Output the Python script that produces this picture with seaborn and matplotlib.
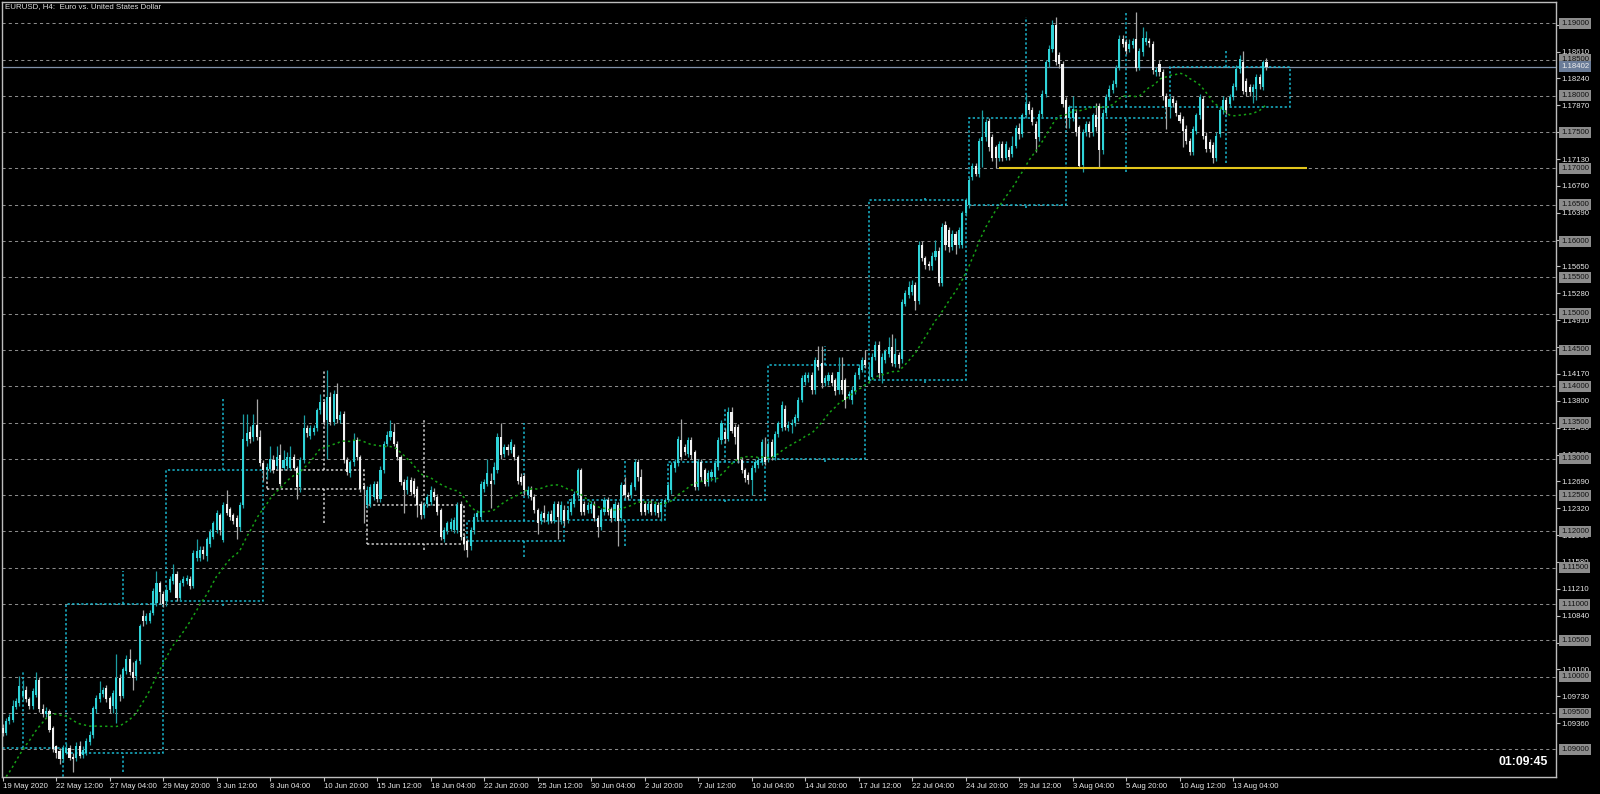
import numpy as np
import pandas as pd
import matplotlib
matplotlib.use("Agg")
import matplotlib.pyplot as plt
import matplotlib.transforms as mtransforms
from matplotlib.patches import Rectangle
import seaborn as sns

# ========== DATA: EURUSD H4, 19 May 20:00 -> 14 Aug 20:00 (prices in 1e-4) ==========
opens = [
    10929, 10923, 10939, 10941, 10958, 10964, 10973, 10982, 10969, 10960,
    10975, 10996, 10955, 10948, 10953, 10929, 10904, 10898, 10886, 10895,
    10902, 10890, 10888, 10904, 10892, 10895, 10910, 10919, 10955, 10969,
    10976, 10984, 10971, 10960, 10955, 10998, 10973, 11008, 11024, 11006,
    11001, 11021, 11083, 11077, 11077, 11088, 11102, 11129, 11114, 11104,
    11120, 11132, 11141, 11109, 11129, 11132, 11134, 11125, 11164, 11164,
    11175, 11166, 11183, 11193, 11202, 11222, 11188, 11238, 11231, 11222,
    11218, 11206, 11236, 11324, 11337, 11330, 11346, 11330, 11294, 11284,
    11286, 11298, 11290, 11305, 11288, 11290, 11288, 11303, 11287, 11261,
    11298, 11342, 11332, 11337, 11342, 11367, 11378, 11353, 11385, 11351,
    11390, 11353, 11362, 11298, 11280, 11295, 11326, 11303, 11262, 11236,
    11238, 11248, 11266, 11245, 11284, 11321, 11330, 11337, 11321, 11303,
    11268, 11257, 11271, 11270, 11259, 11238, 11222, 11238, 11241, 11255,
    11248, 11229, 11190, 11200, 11204, 11202, 11202, 11238, 11193, 11187,
    11180, 11202, 11220, 11220, 11259, 11266, 11270, 11271, 11284, 11330,
    11307, 11316, 11312, 11316, 11303, 11275, 11277, 11250, 11257, 11248,
    11229, 11215, 11226, 11215, 11224, 11215, 11238, 11216, 11229, 11216,
    11227, 11238, 11250, 11284, 11238, 11229, 11231, 11238, 11218, 11206,
    11227, 11243, 11231, 11218, 11236, 11218, 11264, 11250, 11250, 11261,
    11296, 11275, 11238, 11229, 11238, 11227, 11236, 11227, 11238, 11243,
    11257, 11287, 11294, 11326, 11316, 11307, 11326, 11309, 11261, 11296,
    11284, 11268, 11275, 11275, 11289, 11326, 11337, 11328, 11365, 11344,
    11344, 11298, 11284, 11278, 11271, 11287, 11291, 11296, 11303, 11300,
    11323, 11303, 11334, 11342, 11369, 11342, 11346, 11349, 11356, 11381,
    11406, 11411, 11416, 11395, 11436, 11432, 11404, 11407, 11416, 11409,
    11395, 11409, 11408, 11386, 11381, 11393, 11415, 11423, 11436, 11408,
    11413, 11441, 11457, 11418, 11436, 11445, 11454, 11430, 11443, 11437,
    11514, 11526, 11530, 11539, 11518, 11594, 11576, 11569, 11565, 11578,
    11587, 11542, 11622, 11615, 11592, 11610, 11594, 11594, 11638, 11649,
    11688, 11704, 11693, 11738, 11743, 11766, 11743, 11729, 11715, 11734,
    11715, 11726, 11720, 11731, 11756, 11748, 11773, 11789, 11780, 11761,
    11743, 11775, 11803, 11846, 11865, 11897, 11856, 11844, 11794, 11770,
    11770, 11777, 11757, 11705, 11750, 11761, 11750, 11773, 11786, 11725,
    11777, 11798, 11808, 11817, 11839, 11878, 11874, 11864, 11870, 11878,
    11839, 11860, 11874, 11876, 11872, 11833, 11844, 11833, 11800, 11785,
    11796, 11790, 11773, 11768, 11755, 11738, 11722, 11752, 11773, 11796,
    11745, 11736, 11732, 11715, 11748, 11780, 11794, 11789, 11798, 11812,
    11837, 11846, 11821, 11812, 11805, 11810, 11826, 11812, 11846,
]
highs = [
    10935, 10943, 10948, 10968, 10970, 11001, 10996, 10987, 10972, 10985,
    11007, 10999, 10962, 10958, 10956, 10932, 10906, 10902, 10906, 10908,
    10906, 10895, 10910, 10912, 10904, 10916, 10925, 10960, 10975, 10994,
    10986, 10988, 10974, 10982, 11031, 11003, 11013, 11030, 11038, 11020,
    11024, 11073, 11092, 11088, 11092, 11122, 11146, 11132, 11118, 11125,
    11138, 11155, 11145, 11133, 11138, 11140, 11138, 11174, 11189, 11180,
    11180, 11192, 11204, 11214, 11230, 11226, 11240, 11257, 11234, 11225,
    11222, 11240, 11362, 11362, 11345, 11362, 11383, 11340, 11298, 11294,
    11318, 11305, 11318, 11320, 11312, 11310, 11318, 11307, 11290, 11303,
    11360, 11346, 11346, 11347, 11370, 11390, 11382, 11422, 11392, 11395,
    11404, 11366, 11366, 11302, 11299, 11335, 11330, 11306, 11266, 11262,
    11265, 11270, 11270, 11290, 11325, 11338, 11353, 11350, 11324, 11306,
    11272, 11276, 11275, 11274, 11262, 11242, 11240, 11252, 11262, 11260,
    11252, 11232, 11206, 11215, 11218, 11220, 11240, 11242, 11196, 11190,
    11206, 11225, 11230, 11270, 11272, 11300, 11280, 11295, 11335, 11349,
    11320, 11320, 11328, 11320, 11306, 11280, 11280, 11262, 11262, 11252,
    11232, 11228, 11236, 11228, 11230, 11242, 11242, 11242, 11236, 11234,
    11246, 11256, 11288, 11288, 11242, 11240, 11242, 11242, 11222, 11233,
    11248, 11247, 11234, 11242, 11240, 11268, 11275, 11254, 11268, 11300,
    11300, 11286, 11242, 11242, 11245, 11242, 11240, 11245, 11246, 11268,
    11295, 11300, 11332, 11355, 11320, 11330, 11330, 11312, 11300, 11300,
    11288, 11284, 11286, 11298, 11330, 11353, 11342, 11372, 11372, 11348,
    11348, 11302, 11288, 11282, 11291, 11300, 11302, 11327, 11330, 11325,
    11327, 11338, 11352, 11380, 11374, 11352, 11355, 11362, 11385, 11416,
    11420, 11420, 11420, 11440, 11455, 11455, 11415, 11420, 11420, 11412,
    11440, 11441, 11412, 11394, 11400, 11420, 11430, 11440, 11450, 11432,
    11446, 11462, 11462, 11446, 11452, 11468, 11472, 11466, 11447, 11520,
    11532, 11545, 11546, 11544, 11600, 11600, 11580, 11572, 11585, 11602,
    11592, 11625, 11627, 11620, 11615, 11614, 11620, 11642, 11660, 11688,
    11708, 11708, 11742, 11780, 11768, 11770, 11748, 11733, 11738, 11738,
    11738, 11730, 11745, 11760, 11762, 11777, 11803, 11793, 11784, 11765,
    11780, 11808, 11850, 11870, 11904, 11908, 11860, 11848, 11798, 11788,
    11800, 11782, 11760, 11755, 11765, 11765, 11777, 11790, 11790, 11782,
    11802, 11815, 11822, 11843, 11884, 11884, 11878, 11878, 11880, 11915,
    11866, 11895, 11890, 11880, 11876, 11840, 11850, 11837, 11804, 11800,
    11800, 11794, 11778, 11772, 11760, 11742, 11758, 11777, 11803, 11800,
    11750, 11740, 11736, 11750, 11784, 11800, 11798, 11803, 11818, 11842,
    11856, 11862, 11825, 11816, 11816, 11830, 11830, 11850, 11852,
]
lows = [
    10918, 10920, 10935, 10938, 10955, 10960, 10966, 10965, 10956, 10955,
    10972, 10952, 10944, 10944, 10924, 10896, 10888, 10880, 10882, 10893,
    10885, 10869, 10884, 10888, 10888, 10892, 10906, 10915, 10950, 10965,
    10972, 10965, 10950, 10950, 10936, 10966, 10970, 11004, 11002, 10982,
    10995, 11018, 11070, 11073, 11074, 11085, 11098, 11100, 11096, 11098,
    11116, 11128, 11104, 11105, 11125, 11128, 11121, 11122, 11160, 11160,
    11162, 11160, 11178, 11190, 11198, 11195, 11185, 11222, 11216, 11210,
    11190, 11200, 11232, 11318, 11322, 11325, 11326, 11290, 11270, 11272,
    11282, 11280, 11286, 11262, 11285, 11286, 11284, 11284, 11245, 11255,
    11294, 11330, 11328, 11333, 11338, 11362, 11347, 11300, 11347, 11346,
    11350, 11350, 11294, 11278, 11275, 11290, 11298, 11255, 11211, 11232,
    11234, 11244, 11240, 11240, 11280, 11318, 11326, 11318, 11298, 11264,
    11225, 11252, 11250, 11248, 11220, 11217, 11218, 11234, 11236, 11244,
    11222, 11188, 11185, 11196, 11200, 11198, 11198, 11188, 11175, 11165,
    11175, 11196, 11215, 11215, 11254, 11262, 11232, 11266, 11280, 11300,
    11302, 11306, 11308, 11298, 11266, 11264, 11250, 11246, 11244, 11225,
    11196, 11210, 11213, 11210, 11212, 11212, 11190, 11210, 11208, 11212,
    11222, 11234, 11246, 11222, 11222, 11225, 11226, 11214, 11193, 11202,
    11222, 11222, 11213, 11214, 11180, 11214, 11246, 11244, 11246, 11257,
    11270, 11222, 11222, 11225, 11222, 11222, 11220, 11215, 11234, 11240,
    11252, 11282, 11290, 11298, 11305, 11302, 11300, 11257, 11257, 11270,
    11262, 11263, 11270, 11268, 11285, 11320, 11322, 11324, 11335, 11320,
    11294, 11280, 11268, 11266, 11250, 11282, 11287, 11292, 11292, 11296,
    11298, 11298, 11330, 11338, 11340, 11338, 11335, 11345, 11352, 11378,
    11402, 11406, 11390, 11390, 11422, 11398, 11400, 11402, 11400, 11388,
    11390, 11390, 11370, 11382, 11376, 11390, 11410, 11419, 11425, 11404,
    11410, 11436, 11412, 11404, 11432, 11441, 11428, 11426, 11425, 11432,
    11510, 11522, 11526, 11505, 11514, 11572, 11562, 11560, 11560, 11574,
    11538, 11538, 11588, 11585, 11588, 11582, 11590, 11590, 11634, 11645,
    11684, 11690, 11688, 11702, 11738, 11724, 11710, 11700, 11710, 11710,
    11712, 11712, 11716, 11728, 11740, 11743, 11770, 11775, 11760, 11722,
    11738, 11770, 11798, 11840, 11860, 11842, 11838, 11784, 11756, 11756,
    11766, 11745, 11700, 11695, 11745, 11744, 11745, 11752, 11700, 11720,
    11772, 11794, 11804, 11812, 11835, 11868, 11858, 11860, 11866, 11834,
    11835, 11855, 11870, 11868, 11830, 11828, 11828, 11795, 11755, 11770,
    11785, 11772, 11762, 11730, 11734, 11718, 11718, 11748, 11768, 11740,
    11722, 11722, 11708, 11710, 11744, 11775, 11775, 11785, 11794, 11808,
    11832, 11802, 11800, 11800, 11790, 11795, 11810, 11808, 11836,
]
closes = [
    10923, 10939, 10944, 10960, 10966, 10987, 10980, 10969, 10960, 10980,
    10996, 10955, 10948, 10953, 10927, 10900, 10895, 10886, 10902, 10902,
    10888, 10886, 10904, 10891, 10899, 10911, 10920, 10957, 10971, 10978,
    10982, 10969, 10955, 10978, 10998, 10973, 11010, 11024, 11006, 10998,
    11021, 11070, 11077, 11083, 11088, 11118, 11129, 11116, 11100, 11120,
    11134, 11141, 11109, 11129, 11134, 11136, 11125, 11171, 11173, 11175,
    11169, 11189, 11199, 11211, 11225, 11202, 11236, 11225, 11220, 11215,
    11206, 11236, 11328, 11335, 11328, 11346, 11330, 11294, 11284, 11289,
    11300, 11284, 11303, 11266, 11298, 11303, 11303, 11287, 11261, 11298,
    11342, 11335, 11342, 11342, 11367, 11378, 11351, 11385, 11351, 11390,
    11355, 11360, 11298, 11282, 11295, 11326, 11303, 11259, 11258, 11257,
    11261, 11266, 11245, 11284, 11321, 11333, 11339, 11321, 11303, 11268,
    11257, 11271, 11255, 11252, 11236, 11222, 11236, 11248, 11257, 11248,
    11227, 11193, 11202, 11211, 11213, 11216, 11236, 11193, 11183, 11174,
    11202, 11220, 11225, 11266, 11268, 11280, 11266, 11289, 11330, 11305,
    11316, 11312, 11323, 11303, 11270, 11268, 11257, 11257, 11248, 11229,
    11211, 11224, 11218, 11224, 11215, 11238, 11220, 11236, 11215, 11229,
    11241, 11252, 11284, 11227, 11227, 11236, 11238, 11218, 11206, 11229,
    11243, 11227, 11218, 11238, 11215, 11264, 11250, 11248, 11264, 11296,
    11275, 11227, 11227, 11238, 11227, 11238, 11225, 11241, 11243, 11264,
    11291, 11296, 11328, 11303, 11310, 11326, 11305, 11261, 11296, 11275,
    11266, 11280, 11282, 11294, 11326, 11349, 11328, 11365, 11339, 11330,
    11298, 11284, 11273, 11271, 11287, 11296, 11298, 11323, 11296, 11321,
    11303, 11334, 11349, 11374, 11344, 11346, 11349, 11358, 11381, 11411,
    11415, 11416, 11395, 11436, 11427, 11404, 11411, 11416, 11404, 11393,
    11420, 11395, 11381, 11390, 11395, 11416, 11425, 11436, 11429, 11413,
    11441, 11457, 11418, 11441, 11448, 11454, 11432, 11445, 11430, 11516,
    11528, 11537, 11539, 11518, 11594, 11576, 11567, 11565, 11580, 11587,
    11542, 11620, 11594, 11592, 11610, 11594, 11615, 11638, 11656, 11684,
    11704, 11693, 11738, 11743, 11764, 11729, 11715, 11715, 11734, 11715,
    11734, 11716, 11731, 11756, 11748, 11773, 11789, 11780, 11764, 11741,
    11775, 11803, 11846, 11865, 11897, 11846, 11844, 11789, 11770, 11784,
    11782, 11750, 11704, 11750, 11761, 11750, 11773, 11757, 11725, 11777,
    11798, 11810, 11817, 11839, 11878, 11872, 11862, 11871, 11876, 11839,
    11862, 11880, 11880, 11873, 11835, 11835, 11833, 11800, 11784, 11796,
    11790, 11777, 11766, 11752, 11738, 11722, 11754, 11773, 11798, 11745,
    11727, 11727, 11715, 11745, 11780, 11794, 11780, 11798, 11814, 11837,
    11851, 11807, 11805, 11805, 11812, 11826, 11816, 11846, 11840,
]
# closes of the 23 bars before the visible window (estimated), needed for the 24-bar SMA
pre_closes = [10810, 10790, 10780, 10775, 10795, 10805, 10810, 10815, 10812, 10825,
              10818, 10820, 10818, 10830, 10860, 10895, 10910, 10925, 10930, 10945,
              10960, 10970, 10940]
# week of 18-22 May, mostly left of the window: open, high, low
first_week = [10818, 11008, 10810]

xtick_labels = ["19 May 2020", "22 May 12:00", "27 May 04:00", "29 May 20:00", "3 Jun 12:00",
                "8 Jun 04:00", "10 Jun 20:00", "15 Jun 12:00", "18 Jun 04:00", "22 Jun 20:00",
                "25 Jun 12:00", "30 Jun 04:00", "2 Jul 20:00", "7 Jul 12:00", "10 Jul 04:00",
                "14 Jul 20:00", "17 Jul 12:00", "22 Jul 04:00", "24 Jul 20:00", "29 Jul 12:00",
                "3 Aug 04:00", "5 Aug 20:00", "10 Aug 12:00", "13 Aug 04:00"]
grid_levels = [1.090, 1.095, 1.100, 1.105, 1.110, 1.115, 1.120, 1.125, 1.130, 1.135, 1.140,
               1.145, 1.150, 1.155, 1.160, 1.165, 1.170, 1.175, 1.180, 1.185, 1.190]
axis_prices = [1.0936, 1.0973, 1.1010, 1.1047, 1.1084, 1.1121, 1.1158, 1.1195, 1.1232,
               1.1269, 1.1306, 1.1343, 1.1380, 1.1417, 1.1454, 1.1491, 1.1528, 1.1565,
               1.1602, 1.1639, 1.1676, 1.1713, 1.1750, 1.1787, 1.1824, 1.1861, 1.1898]
bid_price = 1.18402
support_level = 1.1700
support_from, support_to = 298, 390
current_week_end = 385
clock_text = "01:09:45"
title_text = "EURUSD, H4:  Euro vs. United States Dollar"

# ========== PREP ==========
o = np.array(opens) / 1e4
h = np.array(highs) / 1e4
l = np.array(lows) / 1e4
c = np.array(closes) / 1e4
n = len(c)
x = np.arange(n)
up = c >= o

all_c = np.r_[np.array(pre_closes) / 1e4, c]
ma = pd.Series(all_c).rolling(24).mean().to_numpy()[len(pre_closes):]

# weekly candles (30 H4 bars per week, first full week starts at bar 19)
weeks = [(-11, 29, first_week[0] / 1e4, first_week[1] / 1e4, first_week[2] / 1e4, c[18])]
for s in range(19, n, 30):
    e = min(s + 30, n)
    w = 29 if s + 30 <= n - 1 else current_week_end - s
    weeks.append((s, w, o[s], h[s:e].max(), l[s:e].min(), c[e - 1]))

# ========== STYLE ==========
sns.set_theme(style="dark", rc={"axes.facecolor": "black", "figure.facecolor": "black"})
plt.rcParams['font.family'] = ['Liberation Sans', 'DejaVu Sans']

CYAN = '#2fd3d8'
CYAN_WICK = '#1c9fa4'
WHITE = '#f2f2f2'
WHITE_WICK = '#a8a8a8'
BOX_CYAN = '#1ab8d0'
GRID = '#8a8a8a'

fig = plt.figure(figsize=(16, 7.94), dpi=100, facecolor='black')
ax = fig.add_axes([2 / 1600, 17 / 794, 1554 / 1600, 775 / 794])
ax.set_facecolor('black')

# grid
for lv in grid_levels:
    ax.axhline(lv, color=GRID, lw=0.75, ls=(0, (3, 3)), zorder=1)
ax.axhline(bid_price, color='#8090a8', lw=0.9, zorder=1.5)

# weekly boxes
for s, w, wo, wh, wl, wc in weeks:
    col = BOX_CYAN if wc >= wo else '#d0d0d0'
    lo_b, hi_b = min(wo, wc), max(wo, wc)
    ax.add_patch(Rectangle((s, lo_b), w, hi_b - lo_b, fill=False, ec=col,
                           lw=1.1, ls=(0, (1.5, 1.5)), zorder=2))
    ax.vlines(s + 17, hi_b, wh, color=col, lw=1.1, ls=(0, (1.5, 1.5)), zorder=2)
    ax.vlines(s + 17, wl, lo_b, color=col, lw=1.1, ls=(0, (1.5, 1.5)), zorder=2)

# candles
dn = ~up
ax.vlines(x[up], l[up], h[up], color=CYAN_WICK, lw=0.9, zorder=3)
ax.vlines(x[dn], l[dn], h[dn], color=WHITE_WICK, lw=0.9, zorder=3)
body = np.maximum(np.abs(c - o), 0.00003)
ax.bar(x[up], body[up], bottom=np.minimum(o, c)[up], width=0.62, color=CYAN, lw=0, zorder=3.5)
ax.bar(x[dn], body[dn], bottom=np.minimum(o, c)[dn], width=0.62, color=WHITE, lw=0, zorder=3.5)

# moving average
sns.lineplot(x=x, y=ma, ax=ax, color='#16a016', lw=1.1, linestyle=(0, (1.5, 2)), zorder=4)

# support line
ax.hlines(support_level, support_from, support_to, color='#e3c61c', lw=1.5, zorder=5)

ax.set_xlim(-0.2, 464.6)
ax.set_ylim(1.08618, 1.19293)

# x axis
ax.set_xticks(np.arange(len(xtick_labels)) * 16)
ax.set_xticklabels(xtick_labels)
for lab in ax.get_xticklabels():
    lab.set_horizontalalignment('left')
ax.tick_params(axis='x', bottom=True, direction='out', length=3, width=0.8, color='#c0c0c0',
               labelsize=5.6, labelcolor='#e6e6e6', pad=1.5)

# y axis on the right
ax.yaxis.tick_right()
ax.set_yticks(axis_prices)
ax.set_yticklabels([f"{p:.5f}" for p in axis_prices])
ax.tick_params(axis='y', right=True, left=False, direction='out', length=3, width=0.8,
               color='#c0c0c0', labelsize=5.6, labelcolor='#e6e6e6', pad=1)

trans = mtransforms.blended_transform_factory(ax.transAxes, ax.transData)
for lv in grid_levels:
    ax.text(1 + 5 / 1554, lv, f"{lv:.5f}", transform=trans, ha='left', va='center',
            fontsize=5.6, color='#111111', clip_on=False, zorder=6,
            bbox=dict(boxstyle='square,pad=0.25', fc='#8c8c8c', ec='none'))
ax.text(1 + 5 / 1554, bid_price, f"{bid_price:.5f}", transform=trans, ha='left', va='center',
        fontsize=5.6, color='#eeeeee', clip_on=False, zorder=7,
        bbox=dict(boxstyle='square,pad=0.25', fc='#6a7c98', ec='none'))

for sp in ax.spines.values():
    sp.set_color('#bdbdbd')
    sp.set_linewidth(1)
ax.set_xlabel("")
ax.set_ylabel("")

fig.text(5 / 1600, 1 - 7 / 794, title_text, color='#e0e0e0', fontsize=5.7, ha='left', va='center')
fig.text(1548 / 1600, 1 - 762 / 794, clock_text, color='white', fontsize=8.8,
         fontweight='bold', ha='right', va='center')

fig.savefig("out.png", dpi=100, facecolor='black')
